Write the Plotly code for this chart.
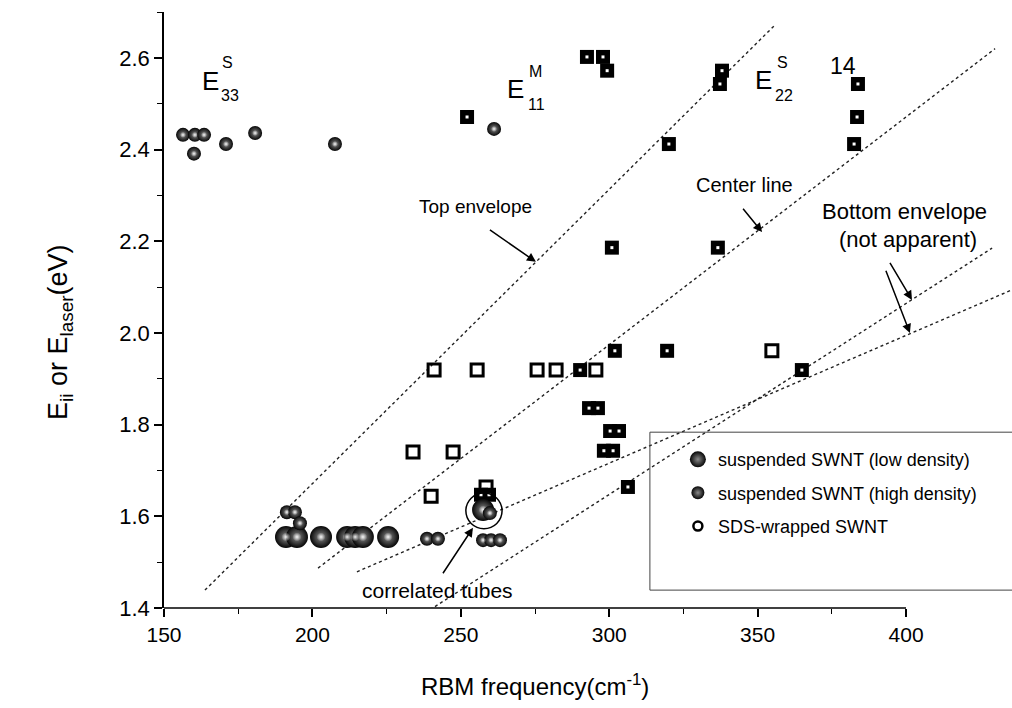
import plotly.graph_objects as go

# ---------------- data ----------------
# suspended SWNT (low density) - large spheres
low_x = [191.1, 194.8, 202.9, 211.7, 214.4, 217.0, 225.5, 257.5]
low_y = [1.555, 1.555, 1.555, 1.555, 1.555, 1.555, 1.555, 1.614]

# suspended SWNT (high density) - small spheres
high_x = [156.4, 160.4, 163.5, 160.1, 170.9, 180.7, 207.6, 261.2,
          191.4, 194.1, 195.8, 238.6, 242.3, 257.5, 260.2, 263.2, 259.8]
high_y = [2.432, 2.432, 2.432, 2.391, 2.412, 2.436, 2.412, 2.445,
          1.609, 1.609, 1.585, 1.551, 1.551, 1.548, 1.548, 1.548, 1.607]

# filled squares (black with white centre)
fill_x = [252.1, 292.5, 297.9, 299.3, 338.0, 337.3, 320.1, 383.8, 383.5, 382.5,
          300.9, 336.6, 301.9, 319.5, 290.2, 364.9, 293.2, 296.2, 300.3, 303.3,
          298.2, 301.3, 306.3, 256.8, 259.5]
fill_y = [2.471, 2.602, 2.602, 2.572, 2.572, 2.543, 2.412, 2.543, 2.471, 2.412,
          2.186, 2.186, 1.961, 1.961, 1.919, 1.919, 1.836, 1.836, 1.786, 1.786,
          1.743, 1.743, 1.664, 1.647, 1.647]

# SDS-wrapped SWNT - open squares
sds_x = [241.0, 255.5, 275.7, 282.1, 295.5, 233.9, 247.4, 240.0, 354.8, 258.5]
sds_y = [1.919, 1.919, 1.919, 1.919, 1.919, 1.740, 1.740, 1.644, 1.961, 1.664]

# guide lines (start / end points)
top_env_x = [163.8, 355.9]
top_env_y = [1.439, 2.672]
center_x = [201.9, 430.0]
center_y = [1.487, 2.620]
bottomA_x = [239.6, 429.0]
bottomA_y = [1.396, 2.185]
bottomB_x = [215.0, 435.7]
bottomB_y = [1.479, 2.094]

x_ticks = [150, 200, 250, 300, 350, 400]
x_minor = [175, 225, 275, 325, 375]
y_ticks = [1.4, 1.6, 1.8, 2.0, 2.2, 2.4, 2.6]
y_ticklabels = ["1.4", "1.6", "1.8", "2.0", "2.2", "2.4", "2.6"]

FONT = "Liberation Sans, Arial, sans-serif"

fig = go.Figure()

dotline = dict(color="#222", width=1.4, dash="dot")
for lx, ly in [(top_env_x, top_env_y), (center_x, center_y),
               (bottomA_x, bottomA_y), (bottomB_x, bottomB_y)]:
    fig.add_trace(go.Scatter(x=lx, y=ly, mode="lines", line=dotline,
                             showlegend=False, hoverinfo="skip"))

# radial gradient: marker.color = rim, gradient.color = centre
sphere = dict(color="#050505", gradient=dict(type="radial", color="#8a8a8a"),
              line=dict(width=0))
shine = dict(color="rgba(240,240,240,0)",
             gradient=dict(type="radial", color="rgba(250,250,250,0.95)"),
             line=dict(width=0))

fig.add_trace(go.Scatter(x=sds_x, y=sds_y, mode="markers", showlegend=False,
                         marker=dict(symbol="square-open", size=12, color="black",
                                     line=dict(width=3, color="black"))))
fig.add_trace(go.Scatter(x=fill_x, y=fill_y, mode="markers", showlegend=False,
                         marker=dict(symbol="square", size=14, color="black",
                                     line=dict(width=0))))
fig.add_trace(go.Scatter(x=fill_x, y=fill_y, mode="markers", showlegend=False,
                         marker=dict(symbol="square", size=3, color="white",
                                     line=dict(width=0))))
fig.add_trace(go.Scatter(x=low_x, y=low_y, mode="markers", showlegend=False,
                         marker=dict(size=22, **sphere)))
fig.add_trace(go.Scatter(x=low_x, y=low_y, mode="markers", showlegend=False,
                         hoverinfo="skip", marker=dict(size=9, **shine)))
fig.add_trace(go.Scatter(x=high_x, y=high_y, mode="markers", showlegend=False,
                         marker=dict(size=14, **sphere)))
fig.add_trace(go.Scatter(x=high_x, y=high_y, mode="markers", showlegend=False,
                         hoverinfo="skip", marker=dict(size=6, **shine)))

# legend entries
fig.add_trace(go.Scatter(x=[None], y=[None], mode="markers", legendgroup="a",
                         name="suspended SWNT (low density)",
                         marker=dict(size=20, **sphere)))
fig.add_trace(go.Scatter(x=[None], y=[None], mode="markers", legendgroup="b",
                         name="suspended SWNT (high density)",
                         marker=dict(size=13, **sphere)))
fig.add_trace(go.Scatter(x=[None], y=[None], mode="markers", legendgroup="c",
                         name="SDS-wrapped SWNT",
                         marker=dict(symbol="circle-open", size=9, color="black",
                                     line=dict(width=2.5, color="black"))))

shapes = [
    # x-axis line only from 150 to 400
    dict(type="line", xref="x", yref="paper", x0=150, x1=400, y0=0, y1=0,
         line=dict(color="black", width=1.5)),
    # legend frame
    dict(type="rect", xref="paper", yref="paper", x0=0.573, x1=1.003, y0=0.030, y1=0.295,
         line=dict(color="#444", width=1)),
    # circle around correlated tubes
    dict(type="circle", xref="x", yref="y", x0=251.7, x1=263.9, y0=1.573, y1=1.651,
         line=dict(color="black", width=1.5)),
]

ann = []
def txt(x, y, s, size):
    ann.append(dict(x=x, y=y, xref="x", yref="y", text=s, showarrow=False,
                    font=dict(size=size, color="black", family=FONT)))

def arrow(x, y, ax, ay):
    ann.append(dict(x=x, y=y, xref="x", yref="y", ax=ax, ay=ay, text=" ",
                    showarrow=True, arrowhead=2, arrowsize=1.2, arrowwidth=1.5,
                    arrowcolor="black"))

txt(254.8, 2.275, "Top envelope", 19)
arrow(275.3, 2.155, -49, -34)
txt(345.7, 2.323, "Center line", 20)
arrow(351.5, 2.220, -22, -27)
txt(399.6, 2.264, "Bottom envelope", 22)
txt(400.7, 2.203, "(not apparent)", 22)
arrow(402.0, 2.072, -25, -42)
arrow(401.3, 2.000, -27, -70)
txt(242.3, 1.439, "correlated tubes", 21)
arrow(254.1, 1.575, -33, 50)
txt(378.8, 2.583, "14", 23)
# E labels
txt(165.5, 2.550, "E", 26)
txt(171.4, 2.590, "S", 16)
txt(172.4, 2.517, "33", 16)
txt(268.3, 2.532, "E", 26)
txt(275.2, 2.570, "M", 16)
txt(275.5, 2.498, "11", 16)
txt(352.1, 2.552, "E", 26)
txt(358.4, 2.590, "S", 16)
txt(359.0, 2.517, "22", 16)

# axis titles
ann.append(dict(x=275, y=-0.13, xref="x", yref="paper", showarrow=False,
                text="RBM frequency(cm<sup>-1</sup>)", yanchor="middle",
                font=dict(size=24, family=FONT, color="black")))
ann.append(dict(x=-0.145, y=2.0, xref="paper", yref="y", showarrow=False,
                text="E<sub>ii</sub> or E<sub>laser</sub>(eV)", textangle=-90,
                font=dict(size=27, family=FONT, color="black")))

fig.update_layout(
    width=1012, height=708,
    margin=dict(l=164, r=0, t=12, b=100),
    paper_bgcolor="white", plot_bgcolor="white",
    font=dict(family=FONT, color="black"),
    shapes=shapes, annotations=ann,
    legend=dict(x=0.606, y=0.28, xanchor="left", yanchor="top",
                bgcolor="rgba(0,0,0,0)", borderwidth=0,
                font=dict(size=18, family=FONT, color="black"),
                tracegroupgap=7, itemsizing="trace"),
    xaxis=dict(range=[150, 435.7], tickvals=x_ticks, ticks="outside", ticklen=8,
               tickwidth=1.5, tickcolor="black", showline=False, showgrid=False,
               zeroline=False, tickfont=dict(size=21),
               minor=dict(tickvals=x_minor, ticks="outside", ticklen=5,
                          tickwidth=1.2, tickcolor="black")),
    yaxis=dict(range=[1.4, 2.7], tickvals=y_ticks, ticktext=y_ticklabels,
               ticks="outside", ticklen=8, tickwidth=1.5, tickcolor="black",
               showline=True, linecolor="black", linewidth=1.5,
               showgrid=False, zeroline=False, tickfont=dict(size=22),
               minor=dict(dtick=0.1, ticks="outside", ticklen=5, tickwidth=1.2,
                          tickcolor="black")),
)

fig.write_html("out.html")
